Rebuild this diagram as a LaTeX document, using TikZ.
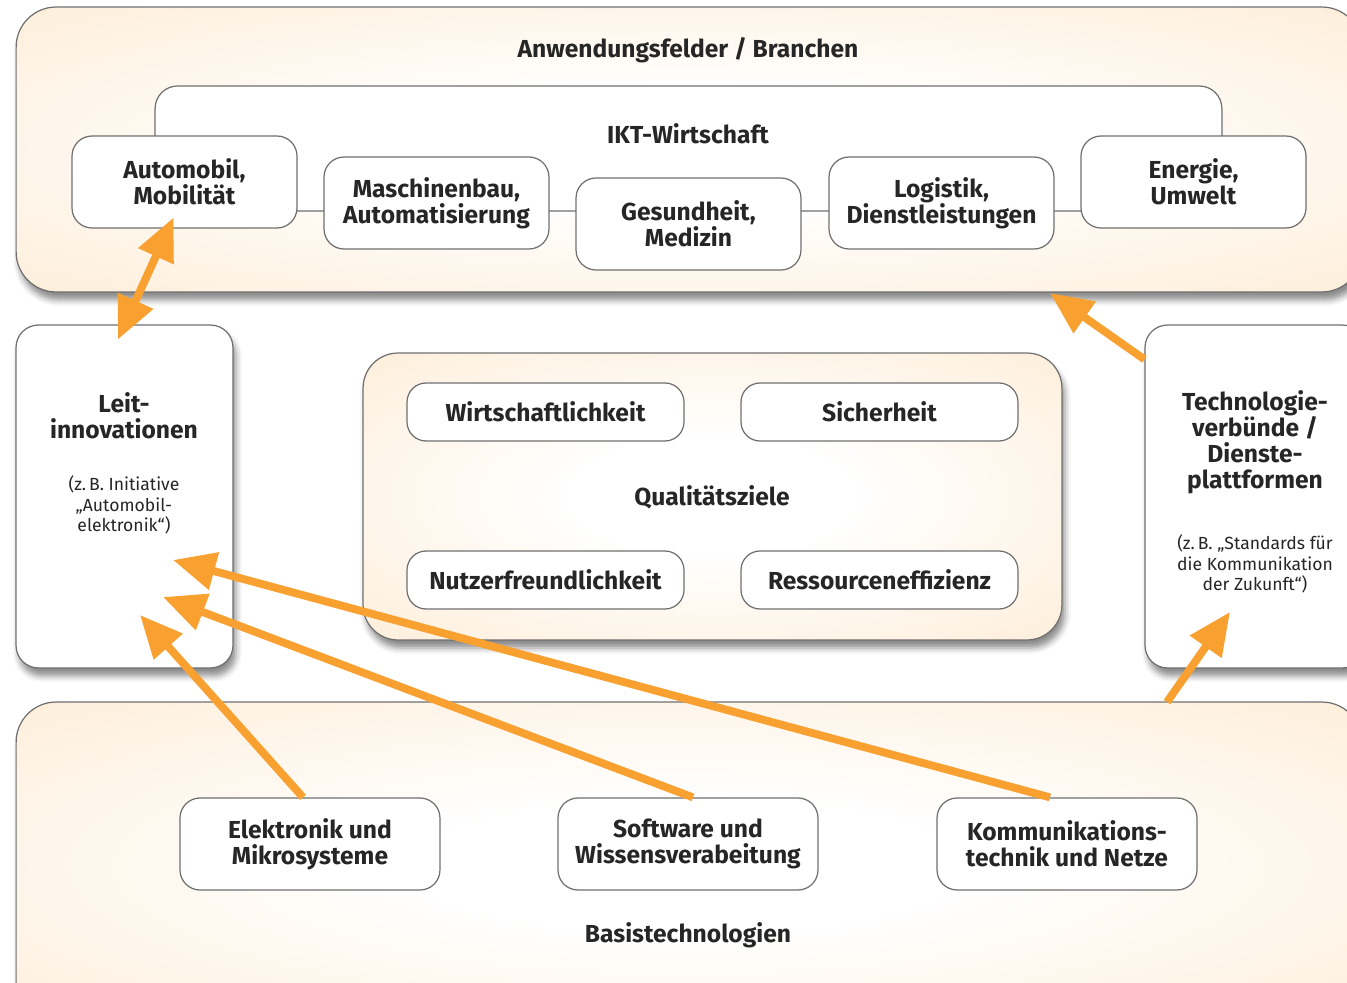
\documentclass[tikz,border=0pt]{standalone}
\usepackage{fontspec}
\setmainfont{Fira Sans}
\usetikzlibrary{arrows.meta,shadows.blur}
\definecolor{kPeach}{HTML}{FDE5C6}
\definecolor{kEdge}{HTML}{707070}
\definecolor{kInk}{HTML}{262626}
\definecolor{kArrow}{HTML}{F8A131}
\pgfdeclareradialshading{kGlow}{\pgfpoint{0bp}{0bp}}{%
  color(0bp)=(white); color(10bp)=(white); color(50bp)=(kPeach); color(75bp)=(kPeach)}

\begin{document}
\begin{tikzpicture}[
  x=0.02cm, y=-0.02cm,
  panel/.style={draw=kEdge, line width=.7pt, shading=kGlow, inner sep=0pt,
    blur shadow={shadow xshift=0.06cm, shadow yshift=-0.16cm,
      shadow blur radius=0.12cm, shadow opacity=45}},
  card/.style={draw=kEdge, line width=.7pt, fill=white, rounded corners=0.45cm,
    inner sep=0pt,
    blur shadow={shadow xshift=0.06cm, shadow yshift=-0.16cm,
      shadow blur radius=0.12cm, shadow opacity=45}},
  field/.style={draw=kEdge, line width=.7pt, fill=white, rounded corners=0.4cm,
    minimum width=4.5cm, minimum height=1.84cm, inner sep=0pt, align=center,
    text=kInk, font=\bfseries\fontsize{14}{14.8}\selectfont},
  goal/.style={field, minimum width=5.54cm, minimum height=1.16cm,
    rounded corners=0.38cm},
  basebox/.style={field, minimum width=5.2cm},
  title/.style={align=center, text=kInk, font=\bfseries\fontsize{14}{14.8}\selectfont},
  note/.style={align=center, text=kInk, font=\fontsize{10}{11.8}\selectfont},
  flow/.style={draw=kArrow, line width=4.5pt,
    -{Triangle[length=0.85cm,width=0.74cm]}},
  twoflow/.style={flow, {Triangle[length=0.85cm,width=0.74cm]}-{Triangle[length=0.85cm,width=0.74cm]}},
]
\clip (0,0) rectangle (1347,983);

% ---- Anwendungsfelder ----------------------------------------------------
\node[panel, rounded corners=0.8cm, minimum width=26.92cm, minimum height=5.7cm]
  (anwendung) at (689,149.5) {};
\node[title] (anwendungTitle) at (688,50) {Anwendungsfelder / Branchen};
\node[draw=kEdge, line width=.7pt, fill=white, rounded corners=0.45cm,
  minimum width=21.34cm, minimum height=2.5cm] (ikt) at (688.5,148.5) {};
\node[title] (iktTitle) at (688,134) {IKT-Wirtschaft};

\node[field] (automobil)    at (184.5,182) {Automobil,\\Mobilität};
\node[field] (maschinenbau) at (436.5,203) {Maschinenbau,\\Automatisierung};
\node[field] (gesundheit)   at (688.5,224) {Gesundheit,\\Medizin};
\node[field] (logistik)     at (941.5,203) {Logistik,\\Dienstleistungen};
\node[field] (energie)      at (1193.5,182) {Energie,\\Umwelt};

% ---- Leitinnovationen ----------------------------------------------------
\node[card, minimum width=4.34cm, minimum height=6.86cm] (leit) at (124.5,496.5) {};
\node[title] (leitTitle) at (124,416) {Leit-\\innovationen};
\node[note]  (leitNote)  at (124,505) {(z.\,B. Initiative\\„Automobil-\\elektronik“)};

% ---- Qualitätsziele ------------------------------------------------------
\node[panel, rounded corners=0.7cm, minimum width=13.98cm, minimum height=5.74cm]
  (quali) at (712.5,496.5) {};
\node[title] (qualiTitle) at (712,497) {Qualitätsziele};
\node[goal] (wirtschaft) at (545.5,412) {Wirtschaftlichkeit};
\node[goal] (sicherheit) at (879.5,412) {Sicherheit};
\node[goal] (nutzer)     at (545.5,580) {Nutzerfreundlichkeit};
\node[goal] (ressourcen) at (879.5,580) {Ressourceneffizienz};

% ---- Technologieverbünde -------------------------------------------------
\node[card, minimum width=4.4cm, minimum height=6.86cm] (technologie) at (1255,496.5) {};
\node[title] (technoTitle) at (1255,442) {Technologie-\\verbünde /\\Dienste-\\plattformen};
\node[note]  (technoNote)  at (1255,564) {(z.\,B. „Standards für\\die Kommunikation\\der Zukunft“)};

% ---- Basistechnologien ---------------------------------------------------
\node[panel, rounded corners=0.8cm, minimum width=26.92cm, minimum height=6.56cm]
  (basis) at (689,866) {};
\node[title] (basisTitle) at (688,935) {Basistechnologien};
\node[basebox] (elektronik)    at (310,844)  {Elektronik und\\Mikrosysteme};
\node[basebox] (software)      at (688,844)  {Software und\\Wissensverabeitung};
\node[basebox] (kommunikation) at (1067,844) {Kommunikations-\\technik und Netze};

% ---- arrows --------------------------------------------------------------
\coordinate (leitTipA) at (140,615);
\coordinate (leitTipB) at (163,597);
\coordinate (leitTipC) at (173,560);
\coordinate (anwendungTip) at (1050,293);
\coordinate (technoTip) at (1230,612);
\coordinate (basisOut) at (1167,702);

\draw[twoflow] ([xshift=-0.22cm,yshift=0.22cm]automobil.south)
  -- ([xshift=-0.13cm,yshift=-0.3cm]leit.north);
\draw[flow] ([yshift=-0.7cm]technologie.north west) -- (anwendungTip);
\draw[flow] (basisOut) -- (technoTip);
\draw[flow] ([xshift=-0.14cm]elektronik.north) -- (leitTipA);
\draw[flow] ([xshift=0.1cm]software.north) -- (leitTipB);
\draw[flow] ([xshift=-0.34cm]kommunikation.north) -- (leitTipC);
\end{tikzpicture}
\end{document}
